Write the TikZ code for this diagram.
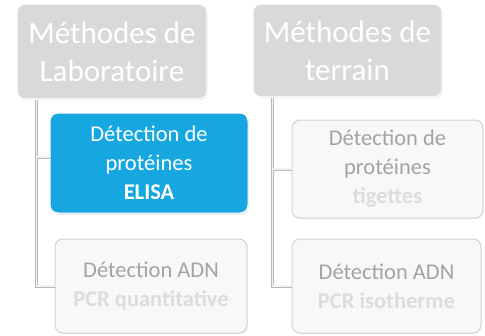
\documentclass[tikz,border=0pt]{standalone}
\usepackage{fontspec}
\setmainfont{Carlito}
\usetikzlibrary{shadows,calc}
\definecolor{hdrfill}{HTML}{D9D9D9}
\definecolor{bluefill}{HTML}{16A7E0}
\definecolor{childfill}{HTML}{F8F8F8}
\definecolor{childdraw}{HTML}{D2D2D2}
\definecolor{childtext}{HTML}{A3A3A3}
\definecolor{subtext}{HTML}{DCDCDC}
\definecolor{connline}{HTML}{B8B8B8}
\definecolor{conninner}{HTML}{F2F2F2}
\tikzset{
  hdrbox/.style={rounded corners=8pt, fill=hdrfill, draw=white, line width=1.2pt,
    drop shadow={shadow xshift=0.8pt, shadow yshift=-1.2pt, fill=black!22},
    text=white, align=center, inner sep=0pt,
    font=\fontsize{31}{38}\selectfont},
  childbox/.style={rounded corners=8pt, fill=childfill, draw=childdraw, line width=1pt,
    drop shadow={shadow xshift=0.6pt, shadow yshift=-1pt, fill=black!12},
    text=childtext, align=center, inner sep=0pt,
    font=\fontsize{22.5}{29}\selectfont},
  bluebox/.style={rounded corners=8pt, fill=bluefill, draw=white, line width=1pt,
    drop shadow={shadow xshift=0.8pt, shadow yshift=-1.5pt, fill=black!25},
    text=white, align=center, inner sep=0pt,
    font=\fontsize{22.5}{29}\selectfont},
  connouter/.style={draw=connline, line width=3pt},
  conninnerl/.style={draw=conninner, line width=1.2pt}
}
\begin{document}
\begin{tikzpicture}[x=1pt,y=-1pt]
\useasboundingbox (0,0) rectangle (485,335);
% header boxes
\node[hdrbox, minimum width=190pt, minimum height=95pt] (H1) at (112,51.5)
  {Méthodes de\\Laboratoire};
\node[hdrbox, minimum width=189pt, minimum height=93pt] (H2) at (347.5,50.5)
  {Méthodes de\\terrain};
% children
\node[bluebox, minimum width=198pt, minimum height=100pt] (B1) at (149,163)
  {Détection de\\protéines\\\textbf{ELISA}};
\node[childbox, minimum width=192pt, minimum height=94pt] (B2) at (151,286)
  {Détection ADN\\\textcolor{subtext}{\textbf{PCR quantitative}}};
\node[childbox, minimum width=191pt, minimum height=98pt] (R1) at (387.5,169)
  {Détection de\\protéines\\\textcolor{subtext}{\textbf{tigettes}}};
\node[childbox, minimum width=189pt, minimum height=94pt] (R2) at (386.5,286)
  {Détection ADN\\\textcolor{subtext}{\textbf{PCR isotherme}}};
% connectors
\coordinate (v1) at ($(H1.south west)+(20pt,0)$);
\coordinate (v2) at ($(H2.south west)+(20pt,0)$);
\coordinate (b1) at ($(B1.west)+(0,6pt)$);
\foreach \s in {connouter,conninnerl}{
  \draw[\s] (v1) |- (B2.west);
  \draw[\s] (v1 |- b1) -- (b1);
  \draw[\s] (v2) |- (R2.west);
  \draw[\s] (v2 |- R1.west) -- (R1.west);
}
\end{tikzpicture}
\end{document}
